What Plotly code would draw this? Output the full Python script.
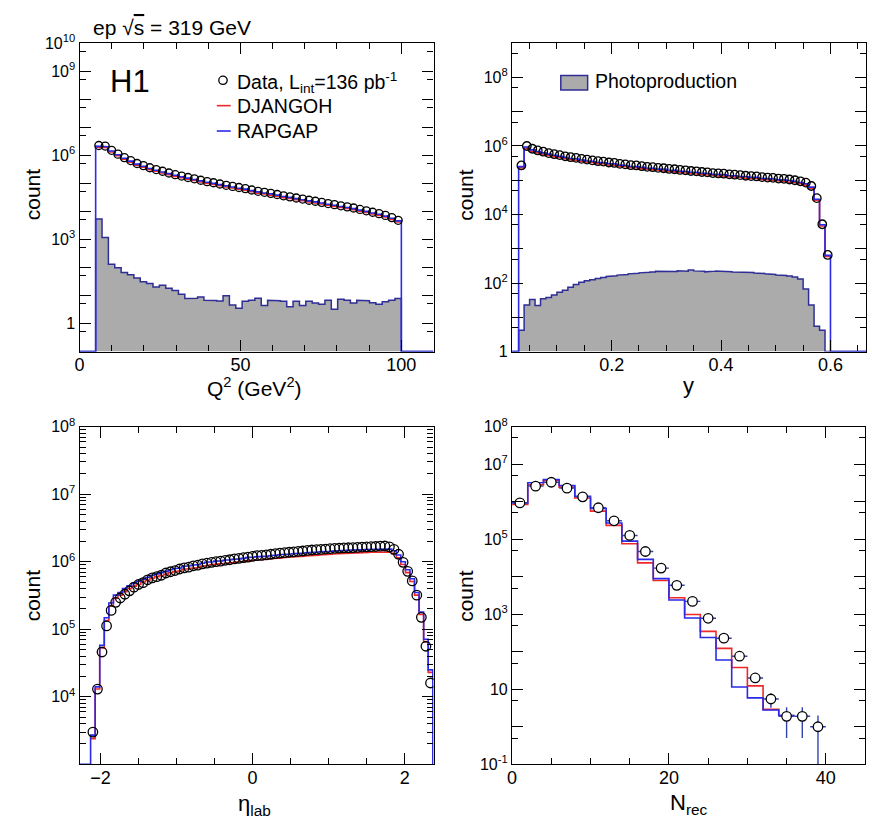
import plotly.graph_objects as go

W, H = 872, 825
FONT = "Liberation Sans, Arial, Helvetica, sans-serif"
RED = "#f02828"
BLUE = "#2a2ae8"
NAVY = "#2e2e96"
GRAY = "#ababab"
ERRC = "#3344b0"

# ---------------- data: Q^2 panel ----------------
q2_lo, q2_hi, q2_nbins = 5.0, 100.0, 48
q2_data = [2.24e6, 2.14e6, 1.51e6, 1.10e6, 8.3e5, 6.5e5, 5.1e5, 4.3e5, 3.6e5, 3.1e5,
           2.7e5, 2.34e5, 2.04e5, 1.82e5, 1.62e5, 1.45e5, 1.29e5, 1.15e5, 1.05e5, 9.5e4,
           8.5e4, 7.8e4, 7.1e4, 6.5e4, 5.8e4, 5.2e4, 4.8e4, 4.4e4, 4.0e4, 3.6e4,
           3.3e4, 3.0e4, 2.75e4, 2.5e4, 2.3e4, 2.1e4, 1.9e4, 1.74e4, 1.58e4, 1.45e4,
           1.32e4, 1.17e4, 1.05e4, 9.3e3, 8.3e3, 7.2e3, 6.0e3, 4.8e3]
q2_rapgap = [2.13e6, 2.03e6, 1.43e6, 1.05e6, 7.9e5, 6.2e5, 4.85e5, 4.1e5, 3.4e5, 2.95e5,
             2.55e5, 2.22e5, 1.94e5, 1.73e5, 1.54e5, 1.38e5, 1.23e5, 1.09e5, 1.0e5, 9.0e4,
             8.1e4, 7.4e4, 6.7e4, 6.2e4, 5.5e4, 4.95e4, 4.55e4, 4.2e4, 3.8e4, 3.4e4,
             3.15e4, 2.85e4, 2.6e4, 2.38e4, 2.18e4, 2.0e4, 1.8e4, 1.65e4, 1.5e4, 1.38e4,
             1.25e4, 1.11e4, 1.0e4, 8.8e3, 7.9e3, 6.8e3, 5.7e3, 4.6e3]
q2_djangoh = [1.95e6, 1.86e6, 1.31e6, 9.6e5, 7.2e5, 5.65e5, 4.45e5, 3.75e5, 3.1e5, 2.7e5,
              2.35e5, 2.04e5, 1.78e5, 1.58e5, 1.41e5, 1.26e5, 1.12e5, 1.0e5, 9.1e4, 8.3e4,
              7.4e4, 6.8e4, 6.2e4, 5.65e4, 5.05e4, 4.5e4, 4.2e4, 3.8e4, 3.5e4, 3.1e4,
              2.9e4, 2.6e4, 2.4e4, 2.18e4, 2.0e4, 1.83e4, 1.65e4, 1.51e4, 1.37e4, 1.26e4,
              1.15e4, 1.02e4, 9.1e3, 8.1e3, 7.2e3, 6.3e3, 5.2e3, 4.2e3]
q2_photo = [5400, 1180, 129, 98, 66, 55, 42, 31, 27, 20,
            23, 18, 15, 11, 7.8, 7.9, 8.9, 6.8, 6.6, 6.3,
            9.8, 4.6, 3.5, 6.2, 6.8, 7.9, 4.4, 6.8, 6.5, 6.2,
            4.0, 6.2, 4.4, 6.2, 5.4, 4.9, 6.8, 3.2, 7.4, 6.8,
            5.4, 6.8, 6.5, 5.5, 4.9, 6.0, 6.8, 7.8]

# ---------------- data: y panel ----------------
y_lo, y_hi, y_nbins = 0.03, 0.60, 57
y_data = [2.7e5, 1.0e6, 8.3e5, 7.4e5, 6.8e5, 6.2e5, 5.75e5, 5.4e5, 5.0e5, 4.7e5,
          4.5e5, 4.2e5, 4.0e5, 3.8e5, 3.6e5, 3.5e5, 3.3e5, 3.2e5, 3.0e5, 2.9e5,
          2.75e5, 2.7e5, 2.57e5, 2.45e5, 2.4e5, 2.3e5, 2.24e5, 2.14e5, 2.09e5, 2.0e5,
          1.95e5, 1.86e5, 1.82e5, 1.74e5, 1.7e5, 1.62e5, 1.58e5, 1.55e5, 1.48e5, 1.45e5,
          1.41e5, 1.35e5, 1.32e5, 1.29e5, 1.23e5, 1.2e5, 1.17e5, 1.12e5, 1.1e5, 1.05e5,
          1.0e5, 9.3e4, 8.5e4, 6.8e4, 3.0e4, 5.2e3, 660]
y_rapgap = [2.5e5, 9.3e5, 7.7e5, 6.9e5, 6.3e5, 5.8e5, 5.35e5, 5.0e5, 4.65e5, 4.4e5,
            4.2e5, 3.9e5, 3.7e5, 3.55e5, 3.35e5, 3.25e5, 3.07e5, 2.98e5, 2.8e5, 2.7e5,
            2.56e5, 2.5e5, 2.4e5, 2.28e5, 2.23e5, 2.14e5, 2.08e5, 1.99e5, 1.94e5, 1.86e5,
            1.81e5, 1.73e5, 1.69e5, 1.62e5, 1.58e5, 1.51e5, 1.47e5, 1.44e5, 1.38e5, 1.35e5,
            1.31e5, 1.26e5, 1.23e5, 1.2e5, 1.14e5, 1.12e5, 1.09e5, 1.04e5, 1.02e5, 9.8e4,
            9.3e4, 8.6e4, 7.9e4, 6.3e4, 2.8e4, 5.0e3, 640]
y_djangoh = [2.3e5, 8.5e5, 7.1e5, 6.3e5, 5.8e5, 5.3e5, 4.9e5, 4.6e5, 4.25e5, 4.0e5,
             3.8e5, 3.6e5, 3.4e5, 3.25e5, 3.05e5, 2.98e5, 2.8e5, 2.72e5, 2.55e5, 2.47e5,
             2.34e5, 2.3e5, 2.18e5, 2.08e5, 2.04e5, 1.96e5, 1.9e5, 1.82e5, 1.78e5, 1.7e5,
             1.66e5, 1.58e5, 1.55e5, 1.48e5, 1.45e5, 1.38e5, 1.34e5, 1.32e5, 1.26e5, 1.23e5,
             1.2e5, 1.15e5, 1.12e5, 1.1e5, 1.05e5, 1.02e5, 9.9e4, 9.5e4, 9.4e4, 8.9e4,
             8.5e4, 7.9e4, 7.2e4, 5.8e4, 2.6e4, 4.6e3, 600]
y_photo = [4.2, 23, 33, 22, 35, 38, 45, 54, 62, 75,
           90, 105, 117, 125, 135, 145, 155, 162, 170, 178,
           185, 192, 198, 205, 210, 222, 215, 225, 218, 228,
           222, 240, 226, 220, 212, 222, 225, 218, 215, 210,
           200, 208, 202, 196, 190, 185, 178, 170, 165, 160,
           150, 130, 67, 23, 5.5, 4.2, 0]

# ---------------- data: eta_lab panel ----------------
eta_lo, eta_hi, eta_nbins = -2.13, 2.37, 75
eta_data = [3.0e3, 1.3e4, 4.6e4, 1.12e5, 1.9e5, 2.5e5, 2.9e5, 3.3e5, 3.7e5, 4.2e5,
            4.6e5, 4.9e5, 5.4e5, 5.75e5, 6.0e5, 6.3e5, 6.8e5, 7.1e5, 7.4e5, 7.8e5,
            8.1e5, 8.3e5, 8.7e5, 8.9e5, 9.3e5, 9.5e5, 9.8e5, 1.0e6, 1.02e6, 1.05e6,
            1.07e6, 1.10e6, 1.12e6, 1.15e6, 1.17e6, 1.20e6, 1.23e6, 1.24e6, 1.26e6, 1.29e6,
            1.32e6, 1.34e6, 1.36e6, 1.38e6, 1.40e6, 1.42e6, 1.44e6, 1.47e6, 1.49e6, 1.51e6,
            1.52e6, 1.54e6, 1.56e6, 1.58e6, 1.59e6, 1.60e6, 1.61e6, 1.62e6, 1.63e6, 1.65e6,
            1.66e6, 1.67e6, 1.68e6, 1.70e6, 1.71e6, 1.66e6, 1.52e6, 1.29e6, 9.8e5, 7.2e5,
            5.2e5, 3.2e5, 1.5e5, 5.6e4, 1.6e4]
eta_rapgap = [2.7e3, 1.4e4, 5.8e4, 1.48e5, 2.45e5, 3.2e5, 3.5e5, 4.0e5, 4.4e5, 4.8e5,
              5.1e5, 5.5e5, 5.9e5, 6.3e5, 6.6e5, 6.9e5, 7.2e5, 7.6e5, 7.9e5, 8.1e5,
              8.5e5, 8.7e5, 8.9e5, 9.1e5, 9.5e5, 9.8e5, 1.0e6, 1.02e6, 1.03e6, 1.05e6,
              1.07e6, 1.09e6, 1.10e6, 1.12e6, 1.15e6, 1.17e6, 1.18e6, 1.20e6, 1.21e6, 1.23e6,
              1.25e6, 1.27e6, 1.28e6, 1.30e6, 1.31e6, 1.33e6, 1.34e6, 1.36e6, 1.37e6, 1.39e6,
              1.40e6, 1.42e6, 1.43e6, 1.44e6, 1.45e6, 1.47e6, 1.48e6, 1.49e6, 1.50e6, 1.51e6,
              1.52e6, 1.53e6, 1.54e6, 1.55e6, 1.55e6, 1.54e6, 1.45e6, 1.26e6, 1.0e6, 7.6e5,
              5.6e5, 3.5e5, 1.8e5, 7.1e4, 2.5e4]
eta_djangoh = [2.4e3, 1.3e4, 5.3e4, 1.35e5, 2.2e5, 2.9e5, 3.2e5, 3.6e5, 4.0e5, 4.35e5,
               4.6e5, 5.0e5, 5.3e5, 5.7e5, 6.0e5, 6.2e5, 6.5e5, 6.9e5, 7.1e5, 7.3e5,
               7.7e5, 7.9e5, 8.0e5, 8.2e5, 8.6e5, 8.8e5, 9.0e5, 9.2e5, 9.3e5, 9.5e5,
               9.6e5, 9.8e5, 9.9e5, 1.01e6, 1.03e6, 1.05e6, 1.06e6, 1.08e6, 1.09e6, 1.11e6,
               1.12e6, 1.14e6, 1.15e6, 1.17e6, 1.18e6, 1.20e6, 1.21e6, 1.22e6, 1.23e6, 1.25e6,
               1.26e6, 1.28e6, 1.29e6, 1.30e6, 1.31e6, 1.32e6, 1.33e6, 1.34e6, 1.35e6, 1.36e6,
               1.37e6, 1.38e6, 1.39e6, 1.40e6, 1.40e6, 1.39e6, 1.31e6, 1.14e6, 9.1e5, 6.9e5,
               5.1e5, 3.2e5, 1.65e5, 6.5e4, 2.3e4]

# ---------------- data: N_rec panel ----------------
n_lo, n_hi, n_nbins = 0, 40, 20
n_data = [9.3e5, 2.6e6, 3.3e6, 2.3e6, 1.35e6, 6.9e5, 3.1e5, 1.26e5, 4.7e4, 1.7e4,
          5.9e3, 2.2e3, 780, 230, 76, 20, 5.5, 1.9, 1.9, 1.0]
n_err = [960, 1600, 1800, 1500, 1160, 830, 560, 355, 217, 130,
         77, 47, 28, 15, 8.7, 4.5, 2.3, 1.4, 1.4, 0.99]
n_mc_hi, n_mc_nbins = 36, 18
n_djangoh = [8.5e5, 2.8e6, 3.7e6, 2.45e6, 1.26e6, 5.6e5, 2.34e5, 7.6e4, 2.34e4, 7.9e3,
             2.75e3, 980, 350, 123, 38, 12.3, 2.9, 2.0]
n_rapgap = [9.3e5, 3.2e6, 3.9e6, 2.7e6, 1.4e6, 6.6e5, 2.7e5, 8.9e4, 2.9e4, 8.9e3,
            2.4e3, 790, 240, 60, 11.5, 5.9, 2.8, 2.0]

# ---------------- axis setup ----------------
PANELS = {
    "tl": dict(xa="x", ya="y", xdom=(75, 431), ydom=(33, 349), xr=(0, 110), yr=(-1, 10),
               xt=[0, 50, 100], xtt=["0", "50", "100"], xminor=10,
               ylab={0, 3, 6, 9, 10}, ymin5=True),
    "tr": dict(xa="x2", ya="y2", xdom=(510, 866), ydom=(33, 349), xr=(0.018, 0.665), yr=(0, 9),
               xt=[0.2, 0.4, 0.6], xtt=["0.2", "0.4", "0.6"], xminor=0.05,
               ylab={0, 2, 4, 6, 8}, ymin5=True),
    "bl": dict(xa="x3", ya="y3", xdom=(75, 431), ydom=(426, 772), xr=(-2.275, 2.38), yr=(3, 8),
               xt=[-2, 0, 2], xtt=["\u22122", "0", "2"], xminor=0.5,
               ylab={4, 5, 6, 7, 8}, ymin5=False),
    "br": dict(xa="x4", ya="y4", xdom=(510, 865), ydom=(426, 772), xr=(0, 45), yr=(-1, 8),
               xt=[0, 20, 40], xtt=["0", "20", "40"], xminor=5,
               ylab={-1, 1, 3, 5, 7, 8}, ymin5=True),
}


def px(x):
    return x / W


def py(y):
    return 1 - y / H


def edges(lo, hi, n):
    return [lo + i * (hi - lo) / n for i in range(n + 1)]


def centers(e):
    return [(a + b) / 2 for a, b in zip(e[:-1], e[1:])]


def step_xy(e, v, floor, xlo=None, xhi=None, close=True):
    xs, ys = [], []
    if close:
        if xlo is not None:
            xs.append(xlo)
            ys.append(floor)
        xs.append(e[0])
        ys.append(floor)
    for i, val in enumerate(v):
        val = val if val > floor else floor
        xs += [e[i], e[i + 1]]
        ys += [val, val]
    if close:
        xs.append(e[-1])
        ys.append(floor)
        if xhi is not None:
            xs.append(xhi)
            ys.append(floor)
    return xs, ys


def ylabel(k):
    if k == 0:
        return "1"
    if k == 1:
        return "10"
    return "10<sup>%d</sup>" % k


fig = go.Figure()


def add_hists(p, e, photo, djangoh, rapgap, close=True):
    P = PANELS[p]
    floor = 10 ** P["yr"][0]
    xlo, xhi = P["xr"]
    if photo is not None:
        xs, ys = step_xy(e, photo, floor, xlo, xhi)
        fig.add_trace(go.Scatter(x=xs, y=ys, mode="lines", fill="toself", fillcolor=GRAY,
                                 line=dict(color=NAVY, width=1.5), xaxis=P["xa"], yaxis=P["ya"],
                                 showlegend=False, hoverinfo="skip"))
    # DJANGOH (red) drawn without the closing edges so RAPGAP's blue edges stay clean
    xs, ys = step_xy(e, djangoh, floor, close=False)
    fig.add_trace(go.Scatter(x=xs, y=ys, mode="lines", line=dict(color=RED, width=1.6),
                             xaxis=P["xa"], yaxis=P["ya"], showlegend=False, hoverinfo="skip"))
    if close:
        xs, ys = step_xy(e, rapgap, floor, xlo, xhi)
    else:
        xs, ys = step_xy(e, rapgap, floor, close=False)
    fig.add_trace(go.Scatter(x=xs, y=ys, mode="lines", line=dict(color=BLUE, width=1.6),
                             xaxis=P["xa"], yaxis=P["ya"], showlegend=False, hoverinfo="skip"))


def add_data(p, xc, vals, size, err=None, xerr=None, filled=False):
    P = PANELS[p]
    kw = {}
    if err is not None:
        kw["error_y"] = dict(type="data", array=err, color=ERRC, thickness=1.4, width=0)
    if xerr is not None:
        kw["error_x"] = dict(type="constant", value=xerr, color=ERRC, thickness=1.4, width=0)
    if filled:
        marker = dict(symbol="circle", size=size, color="white", line=dict(width=1.3, color="black"))
    else:
        marker = dict(symbol="circle-open", size=size, color="black", line=dict(width=1.3, color="black"))
    fig.add_trace(go.Scatter(x=xc, y=vals, mode="markers", marker=marker,
                             xaxis=P["xa"], yaxis=P["ya"], showlegend=False, **kw))


# Q^2 panel
e = edges(q2_lo, q2_hi, q2_nbins)
add_hists("tl", e, q2_photo, q2_djangoh, q2_rapgap)
add_data("tl", centers(e), q2_data, 8)

# y panel
e = edges(y_lo, y_hi, y_nbins)
add_hists("tr", e, y_photo, y_djangoh, y_rapgap)
add_data("tr", centers(e), y_data, 8.5)

# eta panel
e = edges(eta_lo, eta_hi, eta_nbins)
add_hists("bl", e, None, eta_djangoh, eta_rapgap)
add_data("bl", centers(e), eta_data, 9.5)

# N_rec panel
e = edges(n_lo, n_mc_hi, n_mc_nbins)
add_hists("br", e, None, n_djangoh, n_rapgap, close=False)
e = edges(n_lo, n_hi, n_nbins)
add_data("br", centers(e), n_data, 9.5, err=n_err, xerr=1.0, filled=True)

# axes
common = dict(showline=True, linecolor="black", linewidth=1.4, mirror="ticks", ticks="inside",
              tickcolor="black", tickwidth=1.2, showgrid=False, zeroline=False)
layout_axes = {}
for key, P in PANELS.items():
    xname = "xaxis" if P["xa"] == "x" else "xaxis" + P["xa"][1:]
    yname = "yaxis" if P["ya"] == "y" else "yaxis" + P["ya"][1:]
    layout_axes[xname] = dict(
        common, domain=[px(P["xdom"][0]), px(P["xdom"][1])], range=list(P["xr"]), anchor=P["ya"],
        tickmode="array", tickvals=P["xt"], ticktext=P["xtt"], ticklen=11, ticklabelstandoff=-3,
        tickfont=dict(family=FONT, size=18, color="black"),
        minor=dict(tickmode="linear", tick0=0, dtick=P["xminor"], ticklen=6, ticks="inside",
                   tickcolor="black", tickwidth=1.2, showgrid=False))
    k0, k1 = P["yr"]
    ks = list(range(k0, k1 + 1))
    if P["ymin5"]:
        mvals = [5 * 10 ** k for k in range(k0, k1)]
    else:
        mvals = [m * 10 ** k for k in range(k0, k1) for m in range(2, 10)]
    layout_axes[yname] = dict(
        common, type="log", domain=[py(P["ydom"][1]), py(P["ydom"][0])], range=[k0, k1],
        anchor=P["xa"], tickmode="array", tickvals=[10.0 ** k for k in ks],
        ticktext=[ylabel(k) if k in P["ylab"] else "" for k in ks], ticklen=11,
        tickfont=dict(family=FONT, size=16, color="black"),
        minor=dict(tickmode="array", tickvals=mvals, ticklen=6, ticks="inside",
                   tickcolor="black", tickwidth=1.2, showgrid=False))

annotations = []


def ann(text, x, y, size, xanchor="center", yanchor="middle", angle=0):
    annotations.append(dict(text=text, x=px(x), y=py(y), xref="paper", yref="paper",
                            xanchor=xanchor, yanchor=yanchor, showarrow=False, textangle=angle,
                            font=dict(family=FONT, size=size, color="black")))


ann("ep \u221a<span style='text-decoration:overline'>s</span> = 319 GeV", 86, 17, 21, xanchor="left")
ann("H1", 104, 72, 31, xanchor="left")
ann("Data, L<sub>int</sub>=136 pb<sup>-1</sup>", 231, 73, 19.5, xanchor="left")
ann("DJANGOH", 231, 97, 19.5, xanchor="left")
ann("RAPGAP", 231, 123, 19.5, xanchor="left")
ann("Photoproduction", 591, 72, 19.5, xanchor="left")
# axis titles
ann("count", 28, 188, 21, angle=-90)
ann("count", 463, 188, 21, angle=-90)
ann("count", 28, 599, 21, angle=-90)
ann("count", 463, 599, 21, angle=-90)
ann("Q<sup>2</sup> (GeV<sup>2</sup>)", 251, 385, 21)
ann("y", 687, 384, 22)
ann("\u03b7<sub>lab</sub>", 251, 814, 22)
ann("N<sub>rec</sub>", 688, 813, 22)

shapes = [
    dict(type="circle", xref="paper", yref="paper", x0=px(215), x1=px(223.5), y0=py(75.3), y1=py(66.8),
         line=dict(color="black", width=1.3)),
    dict(type="line", xref="paper", yref="paper", x0=px(213), x1=px(227), y0=py(97), y1=py(97),
         line=dict(color=RED, width=1.6)),
    dict(type="line", xref="paper", yref="paper", x0=px(213), x1=px(227), y0=py(123), y1=py(123),
         line=dict(color=BLUE, width=1.6)),
    dict(type="rect", xref="paper", yref="paper", x0=px(559), x1=px(586), y0=py(81), y1=py(66),
         fillcolor=GRAY, line=dict(color=NAVY, width=1.5)),
]

fig.update_layout(width=W, height=H, autosize=False, margin=dict(l=0, r=0, t=0, b=0),
                  paper_bgcolor="white", plot_bgcolor="white", showlegend=False,
                  font=dict(family=FONT, color="black"),
                  annotations=annotations, shapes=shapes, **layout_axes)

fig.write_html("out.html")
